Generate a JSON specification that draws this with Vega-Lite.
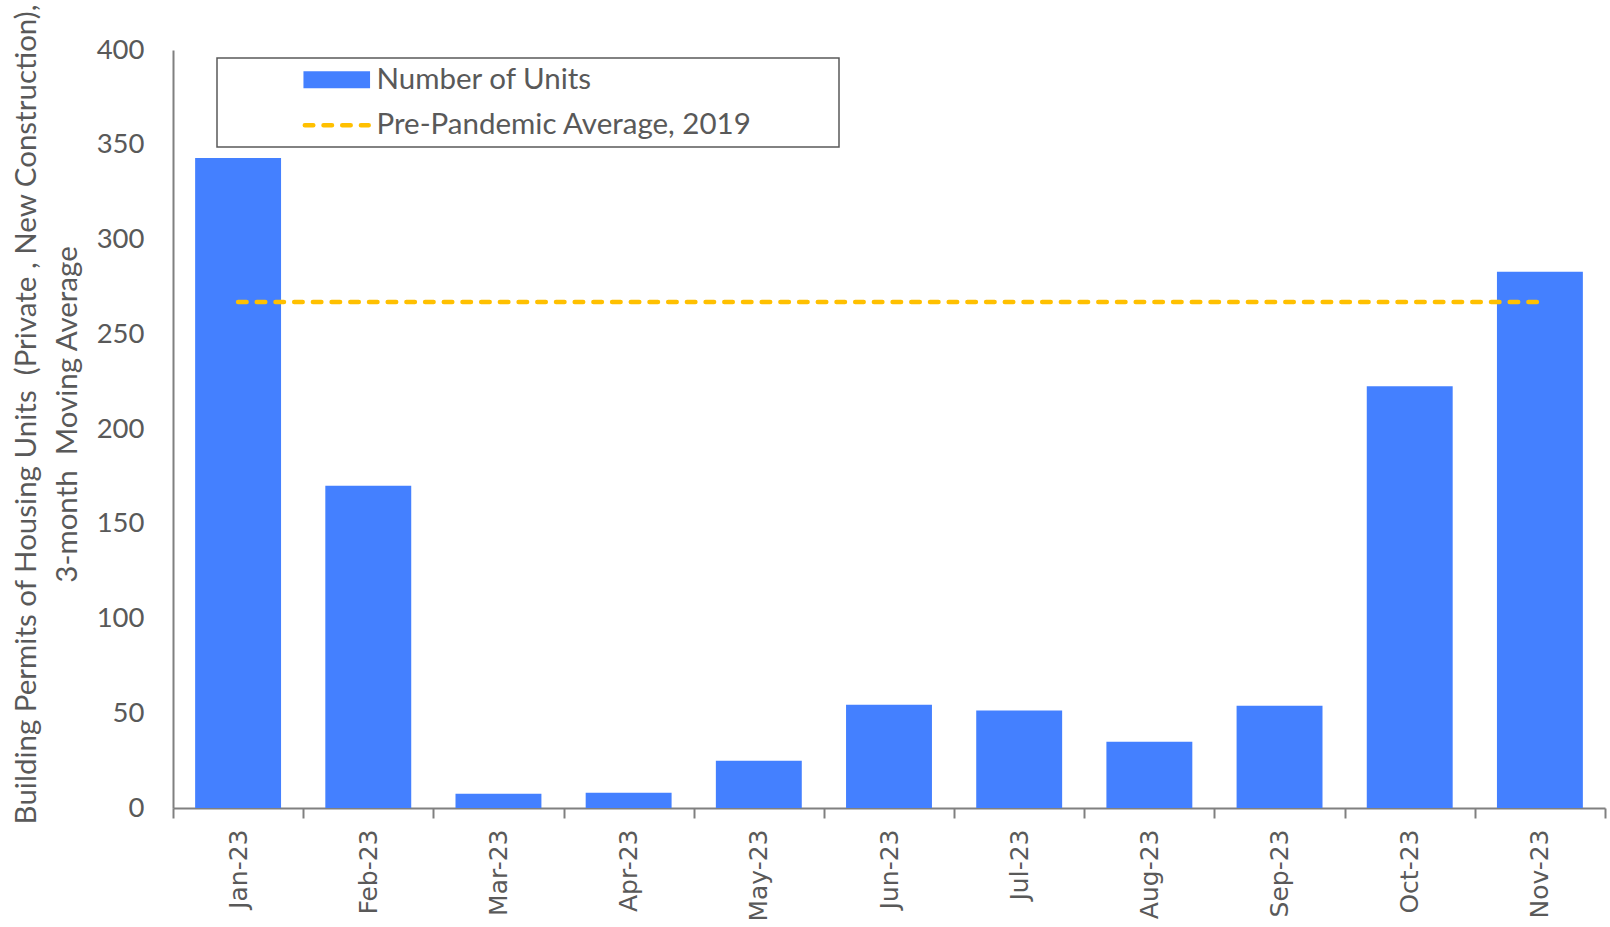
{
  "$schema": "https://vega.github.io/schema/vega-lite/v6.json",
  "autosize": "none",
  "width": 1432,
  "height": 758,
  "padding": {"left": 173, "top": 50, "right": 5, "bottom": 119},
  "background": "white",
  "config": {
    "view": {"stroke": null},
    "font": "Lato",
    "axis": {"grid": false, "domainColor": "#808080", "domainWidth": 2, "tickColor": "#808080", "tickWidth": 2, "labelColor": "#595959", "titleColor": "#595959"}
  },
  "data": {
    "values": [
      {"month": "Jan-23", "units": 343, "avg": 267},
      {"month": "Feb-23", "units": 170, "avg": 267},
      {"month": "Mar-23", "units": 7.5, "avg": 267},
      {"month": "Apr-23", "units": 8, "avg": 267},
      {"month": "May-23", "units": 25, "avg": 267},
      {"month": "Jun-23", "units": 54.5, "avg": 267},
      {"month": "Jul-23", "units": 51.5, "avg": 267},
      {"month": "Aug-23", "units": 35, "avg": 267},
      {"month": "Sep-23", "units": 54, "avg": 267},
      {"month": "Oct-23", "units": 222.5, "avg": 267},
      {"month": "Nov-23", "units": 283, "avg": 267}
    ]
  },
  "encoding": {
    "x": {
      "field": "month", "type": "nominal", "sort": null,
      "scale": {"paddingInner": 0, "paddingOuter": 0},
      "axis": {"title": null, "labelAngle": -90, "labelFont": "DejaVu Sans", "labelFontSize": 25, "labelPadding": 11, "tickBand": "extent", "tickSize": 10, "labelAlign": "right", "labelBaseline": "middle"}
    }
  },
  "layer": [
    {
      "mark": {"type": "bar", "width": {"band": 0.66}},
      "encoding": {
        "y": {
          "field": "units", "type": "quantitative",
          "scale": {"domain": [0, 400], "nice": false},
          "axis": {
            "values": [0, 50, 100, 150, 200, 250, 300, 350, 400],
            "ticks": false, "labelFontSize": 27.5, "labelPadding": 29,
            "title": ["Building Permits of Housing Units \u00a0(Private , New Construction),", "3-month \u00a0Moving Average"],
            "titleFontSize": 29.5, "titleFontWeight": "normal", "titleLineHeight": 41,
            "titleAngle": -90, "titleAlign": "center", "titleBaseline": "middle",
            "titleX": -147, "titleY": 364
          }
        },
        "color": {
          "datum": "Number of Units",
          "type": "nominal",
          "scale": {"domain": ["Number of Units", "Pre-Pandemic Average, 2019"], "range": ["#4480FF", "#FFC000"]},
          "legend": {
            "title": "\u2800\u2800\u2800\u2800",
            "titleOrient": "right", "titleFont": "DejaVu Sans", "titleFontSize": 25.5, "titlePadding": 0,
            "orient": "none", "legendX": 44, "legendY": 8,
            "direction": "vertical",
            "strokeColor": "#595959", "fillColor": "white", "padding": 7,
            "symbolOffset": 98, "symbolSize": 324, "labelOffset": 25,
            "labelFontSize": 29.5, "labelColor": "#595959", "rowPadding": 14.5,
            "labelLimit": 800,
            "encode": {
              "legend": {"update": {"strokeWidth": {"value": 1.5}}},
              "symbols": {
                "update": {
                  "shape": {"signal": "datum.value === 'Number of Units' ? 'M-3.7,-0.95H3.7V0.95H-3.7Z' : 'M-3.55,0H3.55'"},
                  "fill": {"signal": "datum.value === 'Number of Units' ? '#4480FF' : 'transparent'"},
                  "stroke": {"signal": "datum.value === 'Number of Units' ? null : '#FFC000'"},
                  "strokeWidth": {"signal": "datum.value === 'Number of Units' ? 0 : 4.5"},
                  "strokeDash": {"signal": "datum.value === 'Number of Units' ? [] : [8.5, 10.2]"},
                  "strokeCap": {"value": "round"},
                  "opacity": {"value": 1}
                }
              }
            }
          }
        }
      }
    },
    {
      "mark": {"type": "line", "strokeWidth": 4.5, "strokeDash": [8.5, 10.2], "strokeCap": "round"},
      "encoding": {
        "y": {"field": "avg", "type": "quantitative"},
        "color": {"datum": "Pre-Pandemic Average, 2019", "type": "nominal"}
      }
    }
  ]
}
